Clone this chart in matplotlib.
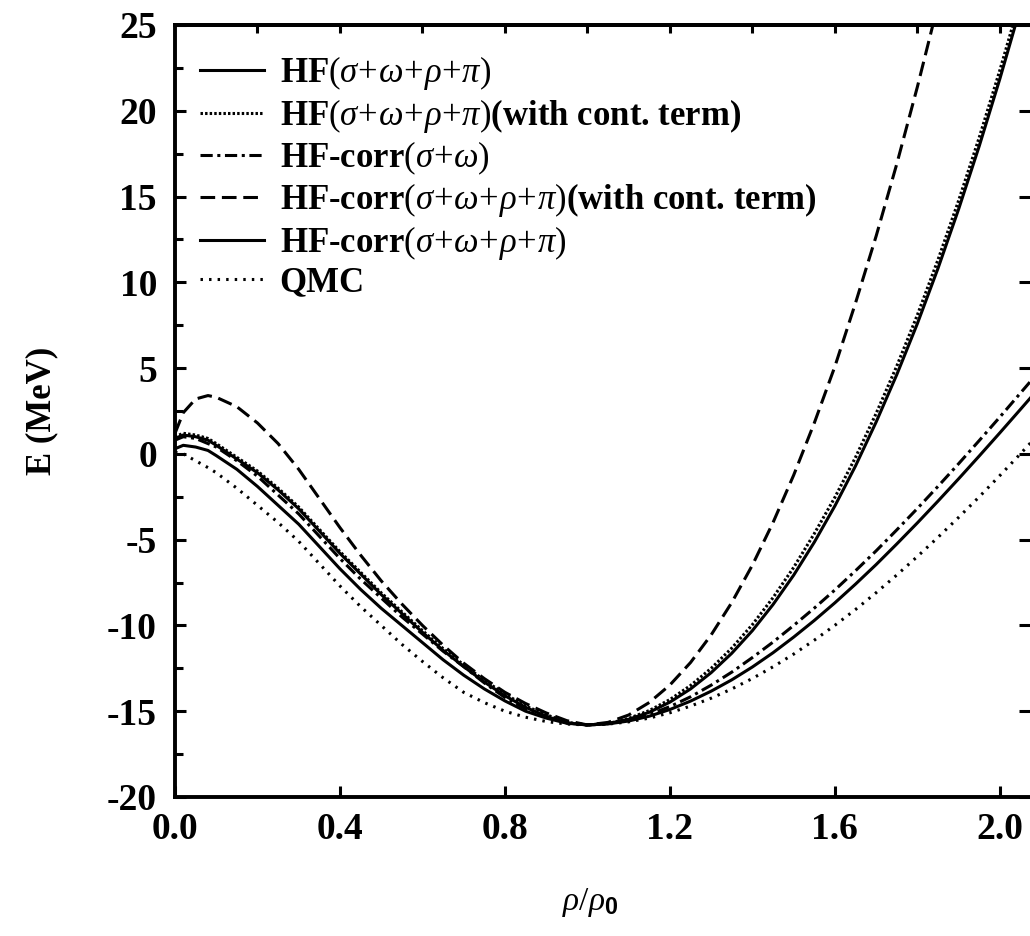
import matplotlib
matplotlib.use("Agg")
import matplotlib.pyplot as plt
import numpy as np

plt.rcParams['font.family'] = ['Liberation Serif', 'DejaVu Serif']
plt.rcParams['mathtext.fontset'] = 'custom'
plt.rcParams['mathtext.rm'] = 'Liberation Serif'
plt.rcParams['mathtext.it'] = 'Liberation Serif:italic'
plt.rcParams['mathtext.bf'] = 'Liberation Sans:bold'
plt.rcParams['axes.unicode_minus'] = False

# density rho/rho0
rho = [0.0, 0.02, 0.05, 0.08, 0.1, 0.15, 0.2, 0.25, 0.3, 0.35, 0.4, 0.45, 0.5, 0.55,
       0.6, 0.65, 0.7, 0.75, 0.8, 0.85, 0.9, 0.95, 1.0,
       1.05, 1.1, 1.15, 1.2, 1.25, 1.3, 1.35, 1.4, 1.45, 1.5, 1.55,
       1.6, 1.65, 1.7, 1.75, 1.8, 1.85, 1.9, 1.95, 2.0, 2.05, 2.1]

# energy per nucleon (MeV)
hf_full = [0.9, 1.1, 1.0, 0.8, 0.5, -0.3, -1.1, -2.1, -3.2, -4.5, -5.8, -7.0, -8.2, -9.3,
           -10.4, -11.45, -12.4, -13.3, -14.1, -14.77, -15.3, -15.68, -15.8,
           -15.72, -15.47, -15.06, -14.47, -13.70, -12.75, -11.62, -10.30, -8.78, -7.07, -5.15,
           -3.03, -0.70, 1.86, 4.62, 7.60, 10.82, 14.27, 17.95, 21.87, 26.03, 30.44]
hf_full_cont = [1.0, 1.2, 1.1, 0.9, 0.6, -0.2, -1.0, -2.0, -3.1, -4.4, -5.7, -6.9, -8.1, -9.2,
                -10.3, -11.35, -12.3, -13.2, -14.0, -14.7, -15.2, -15.65, -15.8,
                -15.72, -15.42, -14.96, -14.32, -13.50, -12.50, -11.32, -9.95, -8.38, -6.62, -4.65,
                -2.53, -0.20, 2.36, 5.12, 8.10, 11.32, 14.77, 18.45, 22.37, 26.53, 30.94]
hfcorr_sw = [0.8, 1.0, 0.9, 0.6, 0.4, -0.4, -1.3, -2.4, -3.5, -4.8, -6.1, -7.3, -8.4, -9.5,
             -10.5, -11.5, -12.4, -13.35, -14.2, -14.85, -15.3, -15.68, -15.8,
             -15.72, -15.52, -15.19, -14.73, -14.16, -13.48, -12.72, -11.87, -10.97, -10.00, -8.99,
             -7.93, -6.81, -5.65, -4.43, -3.18, -1.89, -0.57, 0.78, 2.15, 3.55, 4.95]
hfcorr_full_cont = [1.2, 2.4, 3.2, 3.4, 3.3, 2.75, 1.8, 0.6, -0.9, -2.6, -4.3, -5.9, -7.4, -8.75,
                    -10.0, -11.15, -12.2, -13.1, -13.9, -14.55, -15.1, -15.55, -15.8,
                    -15.65, -15.22, -14.49, -13.47, -12.16, -10.55, -8.66, -6.48, -4.0, -1.24, 1.8,
                    5.1, 8.8, 12.7, 16.9, 21.4, 26.2, 31.3, 36.7, 42.4, 48.4, 54.6]
hfcorr_full = [0.3, 0.5, 0.4, 0.2, -0.1, -0.9, -1.9, -3.0, -4.1, -5.4, -6.7, -7.9, -9.0, -10.0,
               -11.0, -12.0, -12.9, -13.7, -14.4, -15.0, -15.4, -15.7, -15.8,
               -15.74, -15.57, -15.29, -14.90, -14.41, -13.83, -13.17, -12.42, -11.59, -10.68, -9.71,
               -8.68, -7.59, -6.45, -5.25, -4.02, -2.75, -1.45, -0.12, 1.23, 2.60, 3.98]
qmc = [0.1, 0.0, -0.4, -0.8, -1.1, -2.0, -3.0, -4.0, -5.1, -6.4, -7.7, -8.9, -10.0, -11.1,
       -12.1, -13.05, -13.9, -14.5, -15.0, -15.35, -15.6, -15.75, -15.8,
       -15.75, -15.62, -15.4, -15.09, -14.7, -14.24, -13.7, -13.09, -12.41, -11.67, -10.86,
       -9.99, -9.07, -8.09, -7.06, -5.98, -4.86, -3.7, -2.5, -1.26, 0.01, 1.31]

labels = [
    r"HF$(\sigma\!+\!\omega\!+\!\rho\!+\!\pi)$",
    r"HF$(\sigma\!+\!\omega\!+\!\rho\!+\!\pi)$(with cont. term)",
    r"HF-corr$(\sigma\!+\!\omega)$",
    r"HF-corr$(\sigma\!+\!\omega\!+\!\rho\!+\!\pi)$(with cont. term)",
    r"HF-corr$(\sigma\!+\!\omega\!+\!\rho\!+\!\pi)$",
    "QMC",
]

xticks = [0.0, 0.4, 0.8, 1.2, 1.6, 2.0]
yticks = [-20, -15, -10, -5, 0, 5, 10, 15, 20, 25]

fig = plt.figure(figsize=(10.30, 9.36), dpi=100)
ax = fig.add_axes([175/1030, 1-797/936, 1-175/1030, (797-25)/936])

lw = 2.2
ax.plot(rho, hf_full, color='black', lw=lw, ls='-', label=labels[0])
ax.plot(rho, hf_full_cont, color='black', lw=lw, ls=(0, (0.8, 0.7)), label=labels[1])
ax.plot(rho, hfcorr_sw, color='black', lw=lw, ls=(0, (4, 1.5, 1, 1.5)), label=labels[2])
ax.plot(rho, hfcorr_full_cont, color='black', lw=lw, ls=(0, (4.8, 2.2)), label=labels[3])
ax.plot(rho, hfcorr_full, color='black', lw=lw, ls='-', label=labels[4])
ax.plot(rho, qmc, color='black', lw=lw, ls=(0, (0.8, 2.0)), label=labels[5])

ax.set_xlim(0.0, 2.073)
ax.set_ylim(-20, 25)
ax.set_xticks(xticks)
ax.set_xticklabels([f"{v:.1f}" for v in xticks])
ax.set_yticks(yticks)
ax.set_yticklabels([str(v) for v in yticks])
ax.set_yticks(np.arange(-17.5, 25, 5), minor=True)

ax.tick_params(axis='both', which='both', direction='in', width=2.2, labelsize=27)
ax.tick_params(axis='x', which='major', length=8, pad=11, top=False)
ax.tick_params(axis='y', which='major', length=8, pad=13, right=True)
ax.tick_params(axis='y', which='minor', length=6, right=False)

# top ticks every 0.2
sec = ax.secondary_xaxis('top')
sec.set_xticks(np.arange(0.2, 2.07, 0.2))
sec.tick_params(direction='in', length=6, width=2.2, labeltop=False)
sec.spines['top'].set_linewidth(2.8)

for s in ['left', 'bottom', 'top']:
    ax.spines[s].set_linewidth(2.8)
ax.spines['right'].set_visible(False)

for lab in ax.get_xticklabels() + ax.get_yticklabels():
    lab.set_fontweight('bold')

ax.set_ylabel("E (MeV)", fontsize=25, fontweight='bold')
ax.yaxis.set_label_coords(-0.136, 0.5)
ax.set_xlabel(r"$\rho/\rho_{\mathbf{0}}$", fontsize=24)
ax.xaxis.set_label_coords(0.485, -0.115)

leg = ax.legend(loc='upper left', bbox_to_anchor=(0.029, 0.962), frameon=False,
                fontsize=25, handlelength=1.85, handletextpad=0.45, labelspacing=0.13,
                borderpad=0, borderaxespad=0)
for t in leg.get_texts():
    t.set_fontweight('bold')

fig.savefig("out.png", dpi=100)
